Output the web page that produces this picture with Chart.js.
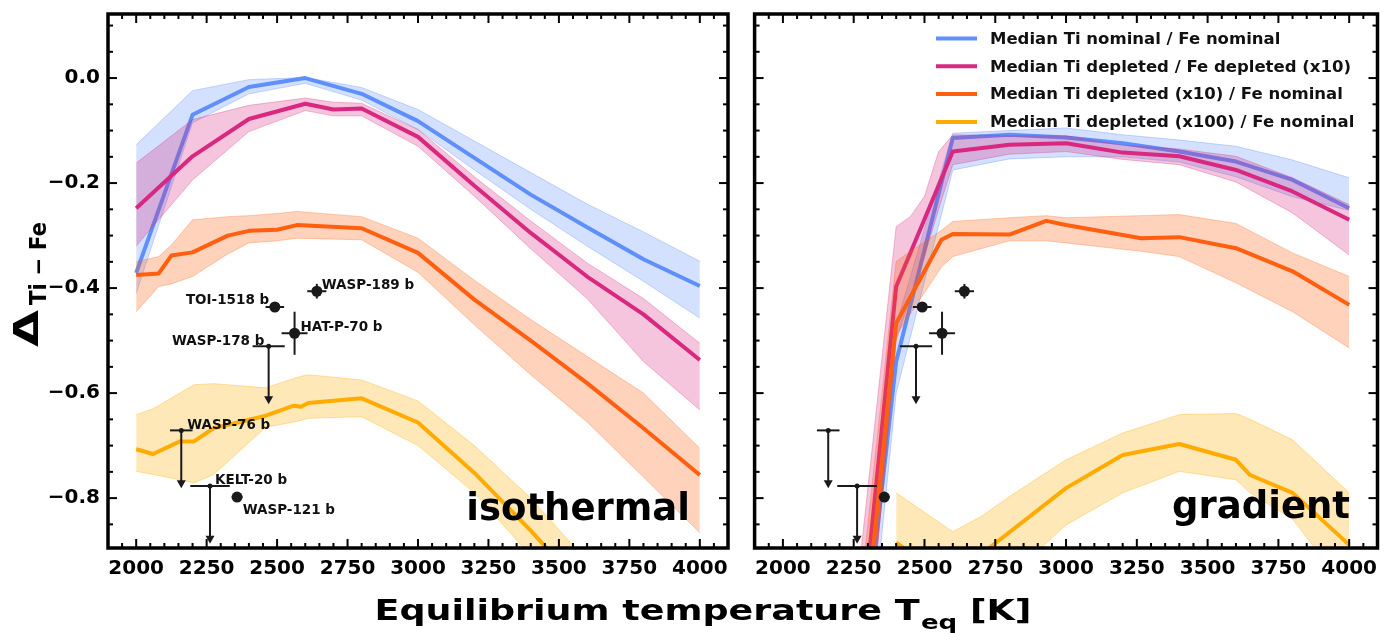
<!DOCTYPE html>
<html>
<head>
<meta charset="utf-8">
<script src="https://cdn.jsdelivr.net/npm/chart.js@4.4.1/dist/chart.umd.min.js"></script>
<style>
body{margin:0;background:#fff;}
#wrap{position:relative;width:1390px;height:633px;}
canvas{position:absolute;left:0;top:0;}
</style>
</head>
<body>
<div id="wrap">
<canvas id="iso" width="1390" height="633"></canvas>
<canvas id="grad" width="1390" height="633"></canvas>
</div>
<script>
// Ticks
const xTicks = [2000, 2250, 2500, 2750, 3000, 3250, 3500, 3750, 4000];
const yTicks = [-0.8, -0.6, -0.4, -0.2, 0.0];

const seriesNames = ['Median Ti nominal / Fe nominal', 'Median Ti depleted / Fe depleted (x10)',
  'Median Ti depleted (x10) / Fe nominal', 'Median Ti depleted (x100) / Fe nominal'];
const panelNames = ['isothermal', 'gradient'];

// isothermal panel
const isoBlueT   = [2000, 2200, 2400, 2600, 2800, 3000, 3200, 3400, 3600, 3800, 4000];
const isoBlueMed = [-0.371, -0.070, -0.017, 0.000, -0.030, -0.082, -0.152, -0.222, -0.284, -0.345, -0.396];
const isoBlueHi  = [-0.127, -0.024, -0.003, 0.001, -0.018, -0.060, -0.120, -0.180, -0.240, -0.293, -0.349];
const isoBlueLo  = [-0.410, -0.085, -0.030, -0.010, -0.042, -0.098, -0.175, -0.250, -0.320, -0.387, -0.457];

const isoPinkT   = [2000, 2200, 2400, 2600, 2700, 2800, 3000, 3200, 3400, 3600, 3800, 4000];
const isoPinkMed = [-0.248, -0.149, -0.078, -0.049, -0.060, -0.058, -0.112, -0.205, -0.295, -0.378, -0.450, -0.537];
const isoPinkHi  = [-0.162, -0.079, -0.052, -0.038, -0.046, -0.048, -0.098, -0.188, -0.272, -0.352, -0.420, -0.505];
const isoPinkLo  = [-0.320, -0.194, -0.102, -0.062, -0.072, -0.072, -0.130, -0.225, -0.325, -0.420, -0.540, -0.632];

const isoOrangeT   = [2000, 2080, 2125, 2200, 2325, 2400, 2500, 2570, 2800, 3000, 3200, 3400, 3600, 3800, 4000];
const isoOrangeMed = [-0.375, -0.372, -0.338, -0.332, -0.300, -0.291, -0.289, -0.280, -0.286, -0.333, -0.422, -0.500, -0.581, -0.667, -0.756];
const isoOrangeHi  = [-0.350, -0.340, -0.318, -0.270, -0.264, -0.262, -0.258, -0.254, -0.264, -0.305, -0.385, -0.460, -0.530, -0.600, -0.705];
const isoOrangeLo  = [-0.445, -0.397, -0.392, -0.378, -0.335, -0.314, -0.310, -0.305, -0.308, -0.370, -0.470, -0.565, -0.655, -0.760, -0.866];

const isoYellowT   = [2000, 2060, 2155, 2205, 2275, 2460, 2560, 2585, 2610, 2800, 3000, 3200, 3400, 3600];
const isoYellowMed = [-0.707, -0.716, -0.692, -0.692, -0.667, -0.643, -0.624, -0.626, -0.619, -0.610, -0.656, -0.752, -0.862, -0.980];
const isoYellowHi  = [-0.641, -0.630, -0.600, -0.584, -0.582, -0.590, -0.572, -0.568, -0.565, -0.575, -0.615, -0.700, -0.800, -0.920];
const isoYellowLo  = [-0.749, -0.755, -0.765, -0.771, -0.755, -0.665, -0.655, -0.652, -0.648, -0.645, -0.700, -0.790, -0.910, -1.050];

// gradient panel
const gradBlueT   = [2250, 2400, 2600, 2800, 3000, 3200, 3400, 3600, 3800, 4000];
const gradBlueMed = [-1.260, -0.540, -0.114, -0.108, -0.113, -0.124, -0.140, -0.159, -0.194, -0.248];
const gradBlueHi  = [-1.150, -0.470, -0.105, -0.100, -0.095, -0.108, -0.118, -0.130, -0.156, -0.190];
const gradBlueLo  = [-1.400, -0.600, -0.175, -0.154, -0.150, -0.150, -0.160, -0.188, -0.226, -0.252];

const gradPinkT   = [2250, 2400, 2450, 2500, 2550, 2600, 2800, 3000, 3200, 3400, 3600, 3800, 4000];
const gradPinkMed = [-1.200, -0.397, -0.333, -0.269, -0.204, -0.140, -0.127, -0.124, -0.142, -0.149, -0.175, -0.216, -0.270];
const gradPinkHi  = [-1.030, -0.283, -0.264, -0.225, -0.140, -0.108, -0.110, -0.110, -0.128, -0.135, -0.149, -0.190, -0.241];
const gradPinkLo  = [-1.400, -0.500, -0.420, -0.340, -0.250, -0.165, -0.145, -0.140, -0.155, -0.165, -0.198, -0.257, -0.337];

const gradOrangeT   = [2250, 2400, 2560, 2600, 2800, 2930, 3000, 3265, 3400, 3600, 3800, 4000];
const gradOrangeMed = [-1.260, -0.467, -0.308, -0.297, -0.298, -0.272, -0.280, -0.305, -0.303, -0.324, -0.368, -0.432];
const gradOrangeHi  = [-1.100, -0.349, -0.290, -0.273, -0.266, -0.262, -0.266, -0.262, -0.260, -0.277, -0.333, -0.378];
const gradOrangeLo  = [-1.400, -0.490, -0.360, -0.340, -0.310, -0.310, -0.314, -0.330, -0.340, -0.390, -0.445, -0.514];

const gradYellowT   = [2400, 2600, 2700, 2800, 3000, 3200, 3400, 3600, 3650, 3800, 4000];
const gradYellowMed = [-0.885, -0.960, -0.907, -0.865, -0.781, -0.718, -0.697, -0.727, -0.756, -0.790, -0.889];
const gradYellowHi  = [-0.790, -0.864, -0.835, -0.797, -0.727, -0.676, -0.641, -0.639, -0.650, -0.689, -0.790];
const gradYellowLo  = [-1.000, -1.080, -1.000, -0.950, -0.851, -0.790, -0.749, -0.765, -0.790, -0.840, -0.980];

// observed planets
const planetNames    = ['WASP-189 b', 'TOI-1518 b', 'HAT-P-70 b', 'WASP-178 b', 'WASP-76 b', 'KELT-20 b', 'WASP-121 b'];
const planetTeq      = [2641, 2492, 2562, 2470, 2160, 2262, 2358];
const planetTeqErr   = [34, 33, 46, 57, 40, 70, 19];
const planetDelta    = [-0.406, -0.436, -0.486, -0.511, -0.671, -0.777, -0.798];
const planetDeltaErr = [0.014, 0.008, 0.041, 0, 0, 0, 0.008];
const planetUpper    = [false, false, false, true, true, true, false];
const ARROW = 0.11;

// styles
const FONT = '"DejaVu Sans", sans-serif';
const COLOR = ['#5f8ffa', '#d8287f', '#ff5f0f', '#ffab00'];
const FILL  = ['rgba(95,143,250,0.27)', 'rgba(216,40,127,0.27)', 'rgba(255,95,15,0.28)', 'rgba(255,171,0,0.28)'];
const EDGE  = ['rgba(95,143,250,0.35)', 'rgba(216,40,127,0.3)', 'rgba(255,95,15,0.3)', 'rgba(255,171,0,0.35)'];
const labelPlace = [
  {dx:5, dy:-2.3, align:'left'}, {dx:-5.7, dy:-2.7, align:'right'}, {dx:6, dy:-2.3, align:'left'},
  {dx:-4.3, dy:-1.7, align:'right'}, {dx:6, dy:-1.4, align:'left'}, {dx:5, dy:-2.4, align:'left'},
  {dx:5.6, dy:16.7, align:'left'}
];

Chart.defaults.font.family = FONT;

function series(T, v){ return T.map((t,i) => ({x:t, y:v[i]})); }

function modelSets(T, med, hi, lo, k){
  const base = 7 - 2*k;
  return [
    {data:series(T,hi), borderColor:EDGE[k], borderWidth:1, pointRadius:0, fill:false, order:base+1},
    {data:series(T,lo), borderColor:EDGE[k], borderWidth:1, pointRadius:0, fill:'-1', backgroundColor:FILL[k], order:base+1},
    {data:series(T,med), borderColor:COLOR[k], borderWidth:4, pointRadius:0, fill:false, order:base, borderJoinStyle:'round'}
  ];
}

function pointsSet(){
  return {data:series(planetTeq, planetDelta), showLine:false, order:0,
    pointRadius:planetUpper.map(u => u ? 2.5 : 5.5), pointBackgroundColor:'#1a1a1a', pointBorderWidth:0};
}

function fmtY(v){ return (v < -1e-9 ? '\u2212' : '') + Math.abs(v).toFixed(1); }

function axisX(){
  return {type:'linear', min:1900, max:4100,
    afterBuildTicks:s => { s.ticks = xTicks.map(v => ({value:v})); },
    afterFit:s => { s.height = 633 - 548; s.paddingLeft = 0; s.paddingRight = 0; },
    grid:{display:false, drawTicks:false}, border:{display:false},
    ticks:{padding:9, color:'#000', font:{size:20, weight:'bold'}, maxRotation:0, autoSkip:false, callback:v => String(v)}};
}
function axisY(show){
  return {type:'linear', min:-0.895, max:0.122, display:show,
    afterBuildTicks:s => { s.ticks = yTicks.map(v => ({value:v})); },
    afterFit:s => { s.width = show ? 108 : 0; s.paddingTop = 0; s.paddingBottom = 0; },
    grid:{display:false, drawTicks:false}, border:{display:false},
    ticks:{padding:8, color:'#000', font:{size:20, weight:'bold'}, callback:v => fmtY(v)}};
}

// frame with inward ticks on all sides
const framePlugin = {
  id:'frame',
  afterDatasetsDraw(chart){
    const {ctx, chartArea:a, scales:{x, y}} = chart;
    ctx.save();
    ctx.strokeStyle = '#000';
    ctx.lineWidth = 2;
    const seg = (x1,y1,x2,y2) => { ctx.beginPath(); ctx.moveTo(x1,y1); ctx.lineTo(x2,y2); ctx.stroke(); };
    for (let v = 1950; v <= 4050; v += 50){
      const px = x.getPixelForValue(v);
      const len = (v - 2000) % 250 === 0 ? 9 : 5;
      seg(px, a.bottom, px, a.bottom - len);
      seg(px, a.top, px, a.top + len);
    }
    for (let k = -17; k <= 2; k++){
      const py = y.getPixelForValue(k*0.05);
      const len = k % 4 === 0 ? 9 : 5;
      seg(a.left, py, a.left + len, py);
      seg(a.right, py, a.right - len, py);
    }
    ctx.lineWidth = 3.5;
    ctx.strokeRect(a.left, a.top, a.right - a.left, a.bottom - a.top);
    ctx.restore();
  }
};

// error bars and upper-limit arrows
const errPlugin = {
  id:'err',
  afterDatasetsDraw(chart){
    const {ctx, scales:{x, y}} = chart;
    ctx.save();
    ctx.strokeStyle = '#1a1a1a';
    ctx.fillStyle = '#1a1a1a';
    ctx.lineWidth = 2;
    const seg = (x1,y1,x2,y2) => { ctx.beginPath(); ctx.moveTo(x1,y1); ctx.lineTo(x2,y2); ctx.stroke(); };
    planetTeq.forEach((t,i) => {
      const px = x.getPixelForValue(t), py = y.getPixelForValue(planetDelta[i]);
      seg(x.getPixelForValue(t - planetTeqErr[i]), py, x.getPixelForValue(t + planetTeqErr[i]), py);
      if (planetUpper[i]){
        const ey = y.getPixelForValue(planetDelta[i] - ARROW);
        seg(px, py, px, ey - 6);
        ctx.beginPath(); ctx.moveTo(px - 4.5, ey - 8); ctx.lineTo(px + 4.5, ey - 8); ctx.lineTo(px, ey); ctx.closePath(); ctx.fill();
      } else if (planetDeltaErr[i] > 0){
        seg(px, y.getPixelForValue(planetDelta[i] + planetDeltaErr[i]), px, y.getPixelForValue(planetDelta[i] - planetDeltaErr[i]));
      }
    });
    ctx.restore();
  }
};

const labelPlugin = {
  id:'planetLabels',
  afterDatasetsDraw(chart){
    const {ctx, scales:{x, y}} = chart;
    ctx.save();
    ctx.fillStyle = '#111';
    ctx.font = 'bold 13.5px ' + FONT;
    ctx.textBaseline = 'alphabetic';
    planetNames.forEach((n,i) => {
      const p = labelPlace[i];
      ctx.textAlign = p.align;
      ctx.fillText(n, x.getPixelForValue(planetTeq[i]) + p.dx, y.getPixelForValue(planetDelta[i]) + p.dy);
    });
    ctx.restore();
  }
};

function panelPlugin(name, right, base){
  return {
    id:'panel',
    afterDatasetsDraw(chart){
      const ctx = chart.ctx;
      ctx.save();
      ctx.fillStyle = '#000';
      ctx.font = 'bold 37px ' + FONT;
      ctx.textAlign = 'right';
      ctx.textBaseline = 'alphabetic';
      ctx.fillText(name, right, base);
      ctx.restore();
    }
  };
}

const legendPlugin = {
  id:'legendBox',
  afterDatasetsDraw(chart){
    const ctx = chart.ctx;
    ctx.save();
    ctx.font = 'bold 16.5px ' + FONT;
    ctx.textBaseline = 'middle';
    ctx.textAlign = 'left';
    seriesNames.forEach((n,k) => {
      const yy = 38.5 + k*27.8;
      ctx.strokeStyle = COLOR[k];
      ctx.lineWidth = 4;
      ctx.beginPath(); ctx.moveTo(936, yy); ctx.lineTo(977, yy); ctx.stroke();
      ctx.fillStyle = '#111';
      ctx.fillText(n, 990, yy + 1);
    });
    ctx.restore();
  }
};

// axis titles (shared)
const titlePlugin = {
  id:'titles',
  afterDraw(chart){
    const ctx = chart.ctx;
    ctx.save();
    ctx.fillStyle = '#000';
    ctx.textBaseline = 'alphabetic';
    ctx.textAlign = 'left';
    // x title
    const mainF = 'bold 28px ' + FONT, subF = 'bold 20px ' + FONT;
    const p1 = 'Equilibrium temperature T', p2 = 'eq', p3 = ' [K]';
    ctx.font = mainF; const w1 = ctx.measureText(p1).width, w3 = ctx.measureText(p3).width;
    ctx.font = subF; const w2 = ctx.measureText(p2).width;
    const target = 657, s = target / (w1 + w2 + w3 + 1);
    ctx.save();
    ctx.translate(703 - target/2, 620);
    ctx.scale(s, 1);
    ctx.font = mainF; ctx.fillText(p1, 0, 0);
    ctx.font = subF; ctx.fillText(p2, w1 + 1, 9);
    ctx.font = mainF; ctx.fillText(p3, w1 + w2 + 1, 0);
    ctx.restore();
    // y title
    ctx.save();
    ctx.translate(38, 347);
    ctx.rotate(-Math.PI/2);
    ctx.font = 'bold 34px ' + FONT;
    const wd = ctx.measureText('\u0394').width;
    ctx.save(); ctx.scale(37/wd, 1); ctx.fillText('\u0394', 0, 0); ctx.restore();
    ctx.font = 'bold 23px ' + FONT;
    const ws = ctx.measureText('Ti \u2212 Fe').width;
    ctx.save(); ctx.translate(42, 8); ctx.scale(83/ws, 1); ctx.fillText('Ti \u2212 Fe', 0, 0); ctx.restore();
    ctx.restore();
    ctx.restore();
  }
};

function makeChart(id, models, padding, showY, extra){
  const datasets = [];
  models.forEach((m,k) => datasets.push(...modelSets(m[0], m[1], m[2], m[3], k)));
  datasets.push(pointsSet());
  return new Chart(document.getElementById(id), {
    type:'line',
    data:{datasets},
    options:{responsive:false, animation:false, events:[],
      layout:{padding},
      plugins:{legend:{display:false}, tooltip:{enabled:false}},
      scales:{x:axisX(), y:axisY(showY)}},
    plugins:[errPlugin, ...extra, framePlugin]
  });
}

makeChart('iso', [
  [isoBlueT, isoBlueMed, isoBlueHi, isoBlueLo],
  [isoPinkT, isoPinkMed, isoPinkHi, isoPinkLo],
  [isoOrangeT, isoOrangeMed, isoOrangeHi, isoOrangeLo],
  [isoYellowT, isoYellowMed, isoYellowHi, isoYellowLo]
], {top:14, left:0, right:1390 - 728, bottom:0}, true, [labelPlugin, panelPlugin(panelNames[0], 690, 520), titlePlugin]);

makeChart('grad', [
  [gradBlueT, gradBlueMed, gradBlueHi, gradBlueLo],
  [gradPinkT, gradPinkMed, gradPinkHi, gradPinkLo],
  [gradOrangeT, gradOrangeMed, gradOrangeHi, gradOrangeLo],
  [gradYellowT, gradYellowMed, gradYellowHi, gradYellowLo]
], {top:14, left:754.6, right:1390 - 1377.5, bottom:0}, false, [panelPlugin(panelNames[1], 1350, 518), legendPlugin]);
</script>
</body>
</html>
